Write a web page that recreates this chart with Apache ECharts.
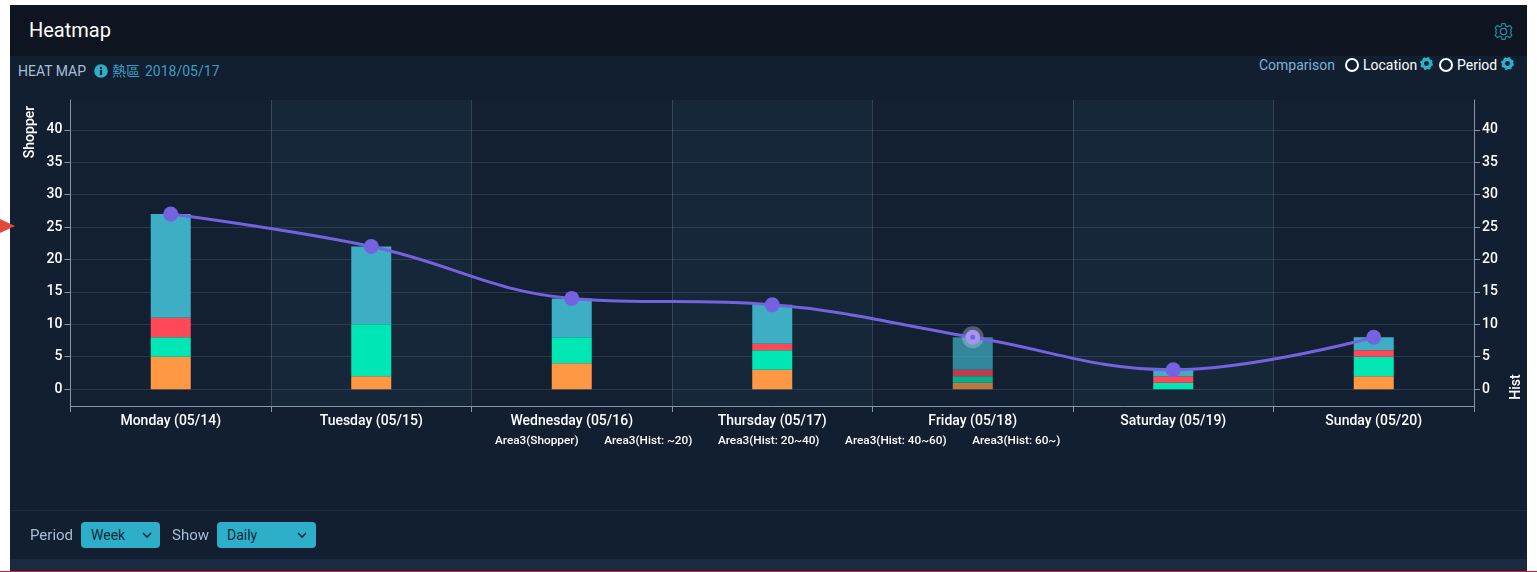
<!DOCTYPE html>
<html><head><meta charset="utf-8">
<script src="https://cdn.jsdelivr.net/npm/echarts@6/dist/echarts.min.js"></script>
<style>
html,body{margin:0;padding:0;background:#fff;width:1537px;height:572px;overflow:hidden;font-family:Roboto,"Noto Sans CJK TC",sans-serif}
.abs{position:absolute;white-space:nowrap}
#panel{left:10px;top:5px;width:1517px;height:566px;background:#121f31;position:absolute}
#head{left:10px;top:5px;width:1517px;height:51px;background:#0f1520;position:absolute}
#foot{left:10px;top:559px;width:1517px;height:12px;background:#1a2a40;position:absolute}
#rule{left:10px;top:510px;width:1517px;height:1px;background:#1b2a3c;position:absolute}
#red{left:0;top:571px;width:1537px;height:1px;background:#c8242c;position:absolute}
#chart{position:absolute;left:0;top:0;width:1537px;height:572px}
.sel{background:#2eafc9;border-radius:4px;height:26px;line-height:26px;color:#0c2a3a;font-size:14px;padding-left:10px;box-sizing:border-box;position:absolute;top:522px}
.sel svg{position:absolute;top:9px}
.ring{width:14px;height:14px;box-sizing:border-box;border:2.5px solid #fff;border-radius:50%;position:absolute;top:58px}
</style></head><body>
<div id="panel"></div><div id="head"></div><div id="rule"></div><div id="foot"></div><div id="red"></div>
<div class="abs" style="left:29px;top:18px;font-size:20px;color:#fff;line-height:24px">Heatmap</div>
<div class="abs" style="left:18px;top:63px;font-size:14px;color:#a9bed6;line-height:17px">HEAT MAP</div>
<svg class="abs" style="left:94px;top:64px" width="14" height="14" viewBox="0 0 14 14"><circle cx="7" cy="7" r="6.8" fill="#2eafc9"/><rect x="5.9" y="5.8" width="2.2" height="5.2" fill="#121f31"/><circle cx="7" cy="3.9" r="1.2" fill="#121f31"/></svg>
<div class="abs" style="left:112px;top:63px;font-size:14px;color:#3c9cc2;line-height:17px">熱區</div>
<div class="abs" style="left:145px;top:63px;font-size:14px;color:#3c9cc2;line-height:17px">2018/05/17</div>
<div class="abs" style="left:1259px;top:57px;font-size:14px;color:#7db2d8;line-height:17px">Comparison</div>
<div class="ring" style="left:1345px"></div>
<div class="abs" style="left:1363px;top:57px;font-size:14px;color:#fff;line-height:17px">Location</div>
<div class="ring" style="left:1439px"></div>
<div class="abs" style="left:1457px;top:57px;font-size:14px;color:#fff;line-height:17px">Period</div>
<svg class="abs" style="left:1420px;top:57px" width="13" height="13" viewBox="0 0 24 24"><circle cx="12" cy="12" r="7.5" fill="none" stroke="#2eafc9" stroke-width="6"/><circle cx="12" cy="12" r="10" fill="none" stroke="#2eafc9" stroke-width="4" stroke-dasharray="4 3.85"/></svg>
<svg class="abs" style="left:1501px;top:57px" width="13" height="13" viewBox="0 0 24 24"><circle cx="12" cy="12" r="7.5" fill="none" stroke="#2eafc9" stroke-width="6"/><circle cx="12" cy="12" r="10" fill="none" stroke="#2eafc9" stroke-width="4" stroke-dasharray="4 3.85"/></svg>
<svg class="abs" style="left:1494px;top:22px" width="19" height="19" viewBox="0 0 24 24"><circle cx="12" cy="12" r="4" fill="none" stroke="#1f8ea8" stroke-width="1.6"/><path d="M10 2h4l.7 3 2.3 1 2.7-1.6 2.8 2.8L20.900 9.900l1 2.100 0 0-1 2.100 1.600 2.700-2.800 2.800L17 18l-2.300 1-.7 3h-4l-.7-3L7 18l-2.700 1.600-2.800-2.800 1.600-2.700-1-2.100 1-2.100L1.500 7.200l2.800-2.800L7 6l2.300-1z" fill="none" stroke="#1f8ea8" stroke-width="1.5" stroke-linejoin="round"/></svg>
<div id="chart"></div>
<svg class="abs" style="left:0;top:219px" width="16" height="14"><path d="M0 0L15 7L0 14z" fill="#e04a3c"/></svg>
<div class="abs" style="left:30px;top:527px;font-size:15px;color:#a9bed6;line-height:17px">Period</div>
<div class="sel" style="left:81px;width:79px">Week<svg style="left:60px" width="12" height="8"><path d="M2 2l4 4 4-4" fill="none" stroke="#0c2a3a" stroke-width="1.6"/></svg></div>
<div class="abs" style="left:172px;top:527px;font-size:15px;color:#a9bed6;line-height:17px">Show</div>
<div class="sel" style="left:217px;width:99px">Daily<svg style="left:79px" width="12" height="8"><path d="M2 2l4 4 4-4" fill="none" stroke="#0c2a3a" stroke-width="1.6"/></svg></div>
<script>
const categories = ['Monday (05/14)','Tuesday (05/15)','Wednesday (05/16)','Thursday (05/17)','Friday (05/18)','Saturday (05/19)','Sunday (05/20)'];
const shopper = [27,22,14,13,8,3,8];
const histUnder20 = [5,2,4,3,1,0,2];
const hist20to40 = [3,8,4,3,1,1,3];
const hist40to60 = [3,0,0,1,1,1,1];
const hist60up = [16,12,6,6,5,1,2];
const highlightIndex = 4;
const axisC = '#8a95a2', gridC = 'rgba(160,180,200,0.17)';
const yAxisBase = {type:'value',z:1,min:-2.6,max:44.6,splitNumber:10,minInterval:5,maxInterval:5,
  axisLine:{show:true,lineStyle:{color:axisC}},
  axisTick:{show:true,length:6,lineStyle:{color:axisC}},
  axisLabel:{color:'#fff',fontSize:14,fontWeight:500,fontFamily:'Roboto',margin:8,
    showMinLabel:false,showMaxLabel:false,
    formatter:v=>(Math.abs(v%5)<1e-6?String(v):'')},
  splitLine:{show:true,showMinLine:false,showMaxLine:false,lineStyle:{color:gridC}}};
const dim = (arr,c)=>arr.map((v,i)=>({value:v,itemStyle:{color:c,opacity:i===highlightIndex?0.72:1}}));
const barSeries = (name,arr,c)=>({name,type:'bar',stack:'h',yAxisIndex:1,barWidth:40,data:dim(arr,c),itemStyle:{color:c}});
const chart = echarts.init(document.getElementById('chart'),null,{renderer:'canvas'});
chart.setOption({
  animation:false,backgroundColor:'transparent',
  grid:{left:70.5,right:63,top:100,bottom:166},
  legend:{left:485,top:430,itemWidth:0,itemHeight:0,itemGap:20.6,icon:'rect',
    data:['Area3(Shopper)','Area3(Hist: ~20)','Area3(Hist: 20~40)','Area3(Hist: 40~60)','Area3(Hist: 60~)'],
    textStyle:{color:'#fff',fontSize:11.8,fontWeight:500,fontFamily:'Roboto'}},
  xAxis:{type:'category',data:categories,
    axisLine:{onZero:false,lineStyle:{color:axisC,width:1}},
    axisTick:{show:true,length:6,lineStyle:{color:axisC}},
    axisLabel:{color:'#fff',fontSize:14,fontWeight:500,fontFamily:'Roboto',margin:8},
    splitLine:{show:true,lineStyle:{color:'rgba(160,180,200,0.24)'}},
    splitArea:{show:true,areaStyle:{color:['#122032','#17273a']}}},
  yAxis:[
    Object.assign({},yAxisBase,{position:'left'}),
    Object.assign({},yAxisBase,{position:'right',splitLine:{show:false}})
  ],
  graphic:[
    {type:'text',x:30,y:132,rotation:Math.PI/2,style:{text:'Shopper',fill:'#fff',fontSize:14,fontWeight:500,fontFamily:'Roboto',align:'center',verticalAlign:'middle'}},
    {type:'text',x:1516,y:387,rotation:Math.PI/2,style:{text:'Hist',fill:'#fff',fontSize:14,fontWeight:500,fontFamily:'Roboto',align:'center',verticalAlign:'middle'}}
  ],
  series:[
    barSeries('Area3(Hist: ~20)',histUnder20,'#ff9845'),
    barSeries('Area3(Hist: 20~40)',hist20to40,'#00e6b4'),
    barSeries('Area3(Hist: 40~60)',hist40to60,'#ff4858'),
    barSeries('Area3(Hist: 60~)',hist60up,'#3eaec4'),
    {name:'Area3(Shopper)',type:'line',yAxisIndex:0,smooth:0.4,symbol:'circle',symbolSize:15,z:5,
      lineStyle:{color:'#7562e0',width:3},itemStyle:{color:'#7562e0'},
      data:shopper.map((v,i)=>i===highlightIndex?{value:v,symbolSize:10,itemStyle:{color:'#7562e0',borderColor:'#a395f2',borderWidth:5}}:v)},
    {name:'halo',type:'scatter',yAxisIndex:0,symbolSize:22,z:4,silent:true,
      itemStyle:{color:'rgba(200,205,215,0.45)'},
      data:shopper.map((v,i)=>i===highlightIndex?v:null)}
  ]
});
</script>
</body></html>
